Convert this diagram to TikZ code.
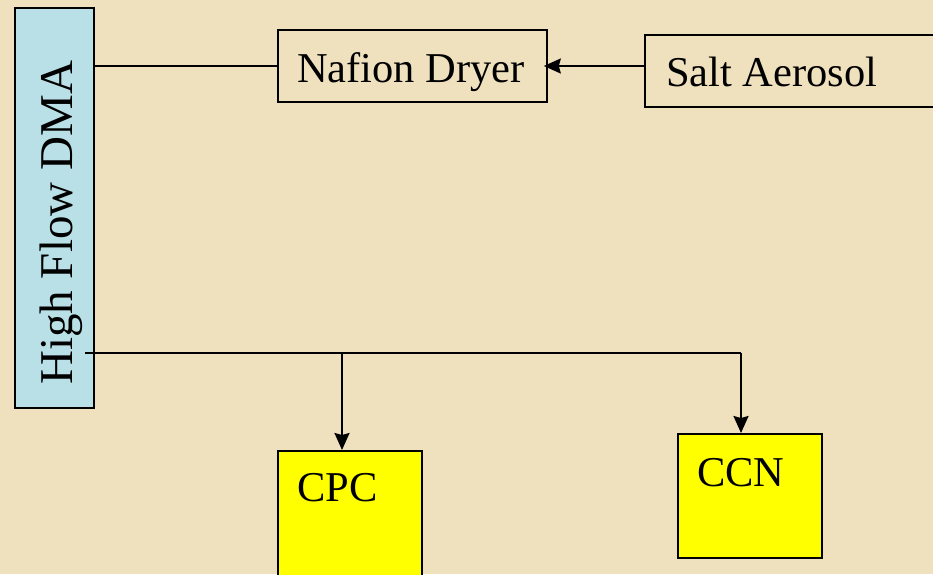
\documentclass[tikz,border=0pt]{standalone}
\usepackage{fontspec}
\setmainfont{Liberation Serif}
\usetikzlibrary{arrows.meta}
\definecolor{parch}{RGB}{240,225,190}
\definecolor{dmablue}{RGB}{185,224,230}
\definecolor{pureyellow}{RGB}{255,255,0}
\tikzset{
  boxline/.style={draw=black, line width=1.8pt, rectangle, inner sep=0pt, anchor=north west},
  plainbox/.style={boxline},
  dmabox/.style={boxline, fill=dmablue},
  yelbox/.style={boxline, fill=pureyellow},
  lbl/.style={inner sep=0pt, anchor=base west, font=\fontsize{42.5}{50}\selectfont},
  conn/.style={draw=black, line width=2pt},
  arr/.style={conn, arrows={-Stealth[length=17pt,width=15pt,inset=2pt]}}
}
\begin{document}
\begin{tikzpicture}[x=1pt, y=-1pt]
\fill[parch] (0,0) rectangle (933,574);
\useasboundingbox (0,0) rectangle (933,574);
% boxes
\node[dmabox, minimum width=79pt, minimum height=400pt] (dma) at (14,7) {};
\node[plainbox, minimum width=269pt, minimum height=72pt] (nafion) at (277,29) {};
\node[plainbox, minimum width=296pt, minimum height=72pt] (salt) at (644,34) {};
\node[yelbox, minimum width=144pt, minimum height=130pt] (cpc) at (277,450) {};
\node[yelbox, minimum width=144pt, minimum height=124pt] (ccn) at (677,433) {};
% texts
\node[lbl, rotate=90, font=\fontsize{47}{55}\selectfont] (dmatxt) at (72,385) {High Flow DMA};
\node[lbl] (naftxt) at (297,82) {Nafion Dryer};
\node[lbl] (salttxt) at (666,86) {Salt Aerosol};
\node[lbl] (cpctxt) at (297,501) {CPC};
\node[lbl] (ccntxt) at (697,486) {CCN};
% connectors
\coordinate (s0) at (85,353);
\coordinate (j1) at (342,353);
\coordinate (j2) at (741,353);
\draw[conn] (dma.east |- 0,66) -- (nafion.west |- 0,66);
\draw[arr, shorten >=-4pt] (salt.west |- 0,66) -- (nafion.east |- 0,66);
\draw[conn] (s0) -- (j2);
\draw[arr] (j1) -- (j1 |- cpc.north);
\draw[arr] (j2) -- (j2 |- ccn.north);
\end{tikzpicture}
\end{document}
